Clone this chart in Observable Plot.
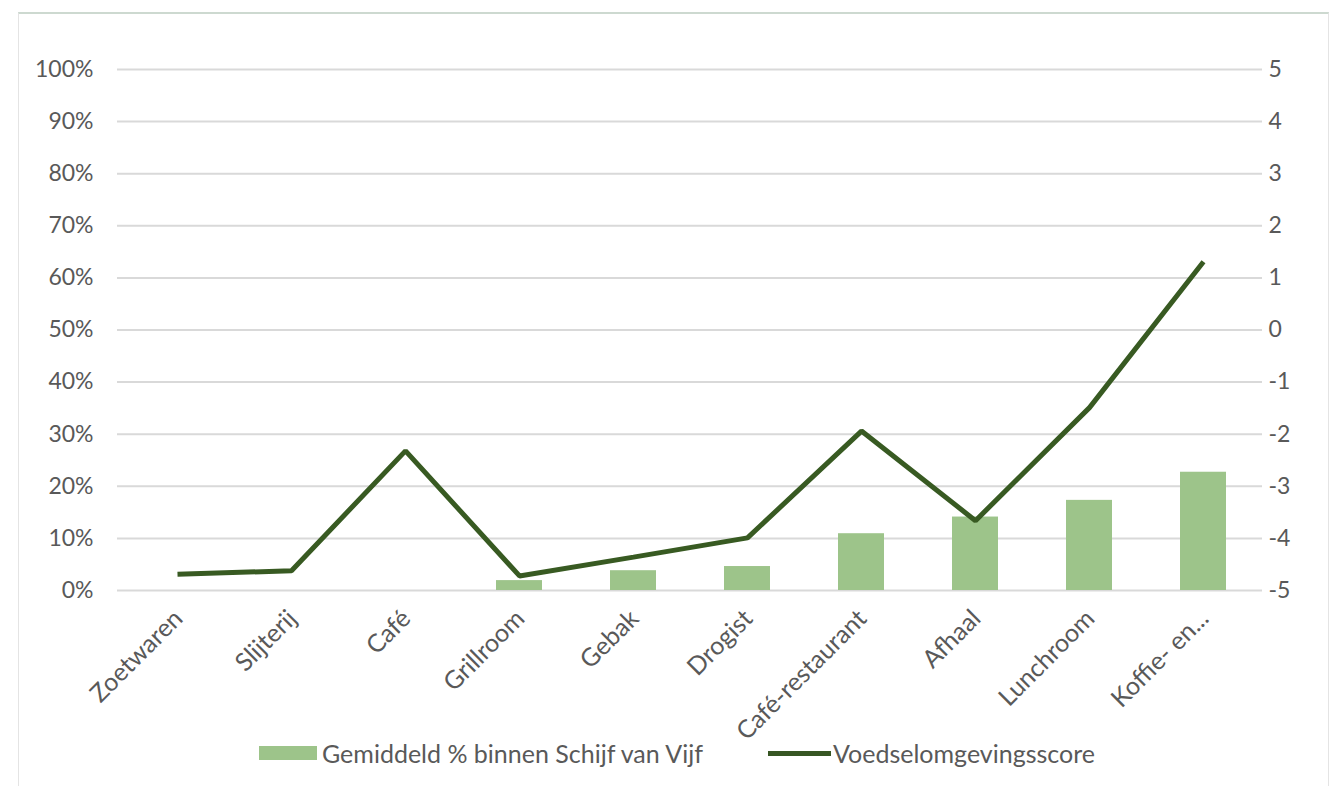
<!DOCTYPE html>
<html>
<head>
<meta charset="utf-8">
<script src="https://cdn.jsdelivr.net/npm/d3@7"></script>
<script src="https://cdn.jsdelivr.net/npm/@observablehq/plot@0.6"></script>
<style>
  html, body { margin: 0; padding: 0; background: #fff; }
  #wrap { position: relative; width: 1343px; height: 786px; overflow: hidden; font-family: Lato, "Open Sans", sans-serif; }
  #frame { position: absolute; left: 18px; top: 12px; width: 1311px; height: 790px; border: 1px solid #e4e4e4; border-top: 2px solid #cdd9d0; box-sizing: border-box; }
  #chart { position: absolute; left: 0; top: 0; }
  #legend { position: absolute; top: 739px; left: 0; width: 1343px; height: 28px; font-size: 25px; color: #595959; }
  .item { position: absolute; top: 0; display: flex; align-items: center; height: 28px; }
  .sw-bar { width: 58px; height: 14px; background: #9dc48a; margin-right: 5px; }
  .sw-line { width: 63px; height: 5px; background: #375623; margin-right: 2px; }
</style>
</head>
<body>
<div id="wrap">
  <div id="frame"></div>
  <div id="chart"></div>
  <div id="legend">
    <div class="item" style="left:259px"><div class="sw-bar"></div><span id="lg1"></span></div>
    <div class="item" style="left:768px"><div class="sw-line"></div><span id="lg2"></span></div>
  </div>
</div>
<script>
const categories = ["Zoetwaren", "Slijterij", "Café", "Grillroom", "Gebak", "Drogist", "Café-restaurant", "Afhaal", "Lunchroom", "Koffie- en..."];
const pctSchijf = [0, 0, 0, 1.9, 3.8, 4.6, 10.9, 14.1, 17.3, 22.7];
const score = [-4.69, -4.62, -2.32, -4.72, -4.36, -3.99, -1.94, -3.66, -1.49, 1.31];
const pctTicks = [0, 10, 20, 30, 40, 50, 60, 70, 80, 90, 100];
const scoreTicks = [-5, -4, -3, -2, -1, 0, 1, 2, 3, 4, 5];
const seriesNames = ["Gemiddeld % binnen Schijf van Vijf", "Voedselomgevingsscore"];

document.getElementById("lg1").textContent = seriesNames[0];
document.getElementById("lg2").textContent = seriesNames[1];

const data = categories.map((c, i) => ({cat: c, pct: pctSchijf[i], score: score[i]}));
const scoreToPct = s => (s + 5) * 10;
const scoreLabel = new Map(scoreTicks.map(s => [scoreToPct(s), String(s)]));

const chart = Plot.plot({
  width: 1343,
  height: 786,
  marginLeft: 117,
  marginRight: 81,
  marginTop: 69,
  marginBottom: 196,
  style: {fontFamily: "Lato, 'Open Sans', sans-serif", fontSize: "23px", color: "#595959", background: "transparent"},
  x: {domain: categories, paddingInner: 0.6, paddingOuter: 0.3},
  y: {domain: [0, 100]},
  marks: [
    Plot.ruleY(pctTicks, {stroke: "#d9d9d9", strokeWidth: 2}),
    Plot.barY(data, {x: "cat", y: "pct", fill: "#9dc48a"}),
    Plot.lineY(data, {x: "cat", y: d => scoreToPct(d.score), stroke: "#385a22", strokeWidth: 5, strokeLinejoin: "miter", strokeLinecap: "butt"}),
    Plot.axisY({anchor: "left", ticks: pctTicks, tickFormat: d => d + "%", tickSize: 0, tickPadding: 24, fontSize: 23, label: null}),
    Plot.axisY({anchor: "right", ticks: scoreTicks.map(scoreToPct), tickFormat: d => scoreLabel.get(d), tickSize: 0, tickPadding: 6, fontSize: 23, label: null}),
    Plot.axisX({anchor: "bottom", tickRotate: -45, tickSize: 0, tickPadding: 24, fontSize: 25, label: null, dx: 1})
  ]
});
document.getElementById("chart").appendChild(chart);
</script>
</body>
</html>
